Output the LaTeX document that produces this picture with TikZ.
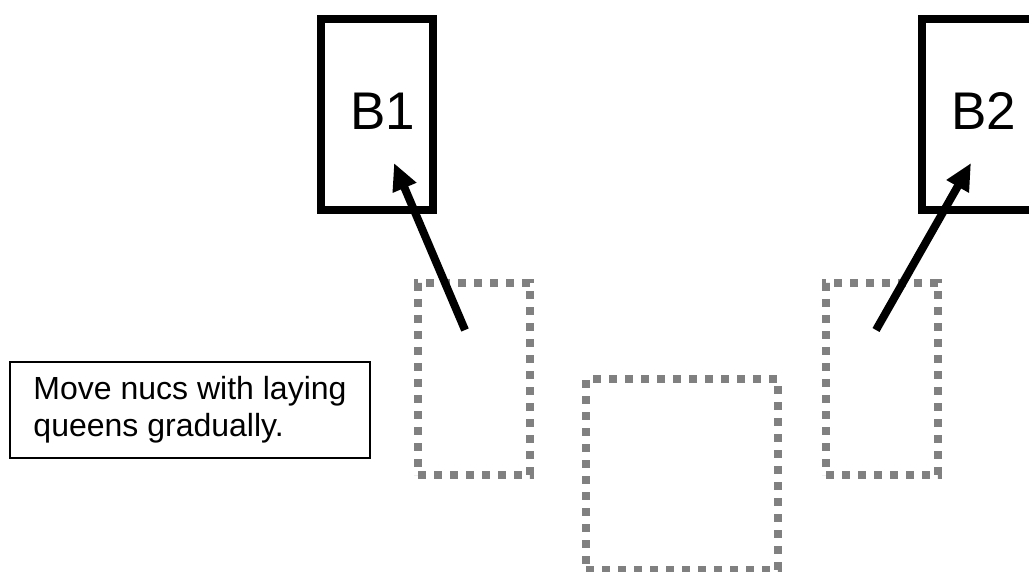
\documentclass[tikz,border=0pt]{standalone}
\usepackage{fontspec}
\setmainfont{Liberation Sans}
\usetikzlibrary{arrows.meta}
\definecolor{dotgray}{HTML}{808080}
\tikzset{
  hivebox/.style={draw=black, line width=8pt, minimum width=112pt, minimum height=191pt, inner sep=0pt},
  hivelabel/.style={inner sep=0pt, font=\fontsize{53}{60}\selectfont},
  nucbox/.style={draw=dotgray, line width=8pt, dash pattern=on 8pt off 8pt, inner sep=0pt},
  notebox/.style={draw=black, line width=2.5pt, minimum width=360pt, minimum height=96pt, align=left, inner sep=0pt, font=\fontsize{32}{37}\selectfont},
  movearrow/.style={line width=8pt, -{Triangle[length=27pt,width=24pt]}}
}
\begin{document}
\begin{tikzpicture}[x=1pt,y=-1pt]
\useasboundingbox (0,0) rectangle (1029,572);
\clip (0,0) rectangle (1029,572);
\fill[white] (0,0) rectangle (1029,572);
% hive boxes
\node[hivebox] (b1) at (377,114.5) {};
\node[hivebox] (b2) at (978,114.5) {};
\node[hivelabel] (b1t) at (383,111) {B1};
\node[hivelabel] (b2t) at (984,111) {B2};
% nuc boxes
\node[nucbox, minimum width=112pt, minimum height=192pt] (n1) at (474,379) {};
\node[nucbox, minimum width=192pt, minimum height=191pt] (n2) at (682,474.5) {};
\node[nucbox, minimum width=112pt, minimum height=192pt] (n3) at (882,379) {};
% note
\node[notebox] (note) at (190,410) {Move nucs with laying\\queens gradually.};
% arrows
\coordinate (t1) at (465,330);
\coordinate (h1) at (394,163);
\coordinate (t2) at (876,330);
\coordinate (h2) at (971,163);
\draw[movearrow] (t1) -- (h1);
\draw[movearrow] (t2) -- (h2);
\end{tikzpicture}
\end{document}
